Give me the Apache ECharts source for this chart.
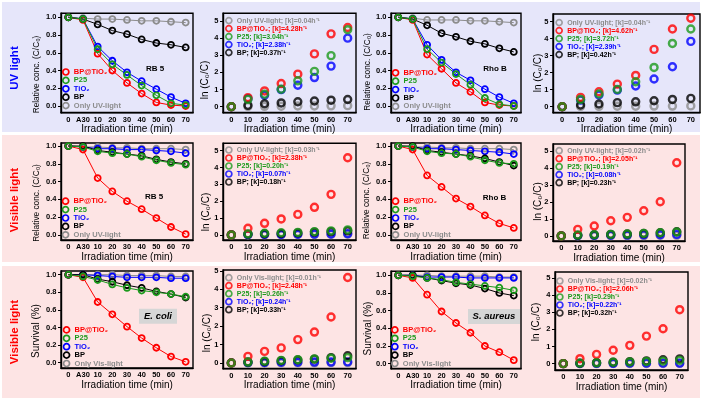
<!DOCTYPE html>
<html><head><meta charset="utf-8">
<script src="https://cdn.jsdelivr.net/npm/echarts@6/dist/echarts.min.js"></script>
<style>html,body{margin:0;padding:0;background:#fff}#c{width:702px;height:400px}</style>
</head><body><div id="c"></div>
<script>
// ---------- DATA ----------
const concCats = ['0','A30','10','20','30','40','50','60','70'];
const lnCats = ['0','10','20','30','40','50','60','70'];
const concTicks = [0,0.2,0.4,0.6,0.8,1.0];
const lnTicks = [0,1,2,3,4,5];
const matKeys = ['bpTiO2','p25','tiO2','bp'];
const matLabels = ['BP@TiO₂','P25','TiO₂','BP'];
const rowLabels = ['UV light','Visible light','Visible light'];
const lightNames = ['Only UV-light','Only UV-light','Only Vis-light'];
const dyeTitles = ['RB 5','Rho B','RB 5','Rho B'];
const bacteriaTitles = ['E. coli','S. aureus'];
const xTitle = 'Irradiation time (min)';
const yTitles = {conc:'Relative conc. (C/C₀)', surv:'Survival (%)', ln:'ln (C₀/C)'};

// relative concentration / survival (x: 0, A30, 10..70)
const uvRB5Conc = {
  bpTiO2:[1.0,0.97,0.59,0.40,0.26,0.14,0.04,0.01,0.00],
  p25:   [1.0,0.98,0.64,0.47,0.35,0.23,0.12,0.03,0.01],
  tiO2:  [1.0,0.98,0.67,0.51,0.38,0.28,0.19,0.10,0.03],
  bp:    [1.0,0.98,0.92,0.85,0.81,0.75,0.71,0.69,0.66],
  light: [1.0,0.99,0.98,0.98,0.97,0.96,0.96,0.95,0.94]};
const uvRhoConc = {
  bpTiO2:[1.0,0.97,0.58,0.42,0.26,0.16,0.04,0.01,0.00],
  p25:   [1.0,0.98,0.64,0.49,0.36,0.24,0.09,0.02,0.00],
  tiO2:  [1.0,0.98,0.69,0.52,0.38,0.29,0.19,0.10,0.03],
  bp:    [1.0,0.98,0.91,0.82,0.78,0.73,0.70,0.65,0.61],
  light: [1.0,0.99,0.97,0.97,0.97,0.96,0.96,0.95,0.94]};
const visRB5Conc = {
  bpTiO2:[1.0,0.96,0.64,0.49,0.38,0.29,0.19,0.09,0.01],
  p25:   [1.0,0.99,0.94,0.92,0.91,0.88,0.84,0.81,0.79],
  tiO2:  [1.0,0.99,0.97,0.97,0.96,0.96,0.95,0.94,0.92],
  bp:    [1.0,1.0,0.95,0.93,0.91,0.89,0.85,0.82,0.80],
  light: [1.0,0.99,0.99,0.98,0.98,0.97,0.97,0.97,0.96]};
const visRhoConc = {
  bpTiO2:[1.0,0.96,0.67,0.54,0.41,0.32,0.22,0.13,0.08],
  p25:   [1.0,0.99,0.94,0.92,0.91,0.88,0.84,0.81,0.80],
  tiO2:  [1.0,0.99,0.97,0.97,0.96,0.95,0.94,0.93,0.91],
  bp:    [1.0,1.0,0.95,0.93,0.91,0.89,0.86,0.82,0.78],
  light: [1.0,0.99,0.99,0.98,0.98,0.97,0.97,0.97,0.96]};
const ecoliSurv = {
  bpTiO2:[1.0,0.97,0.69,0.55,0.41,0.28,0.17,0.07,0.01],
  p25:   [1.0,0.98,0.94,0.89,0.85,0.82,0.80,0.78,0.75],
  tiO2:  [1.0,1.0,0.99,0.98,0.97,0.97,0.97,0.96,0.96],
  bp:    [1.0,1.0,0.95,0.92,0.88,0.85,0.81,0.78,0.74],
  light: [1.0,1.0,1.0,1.0,0.99,0.99,0.99,0.98,0.98]};
const aureusSurv = {
  bpTiO2:[1.0,0.97,0.78,0.59,0.46,0.35,0.20,0.13,0.04],
  p25:   [1.0,0.99,0.97,0.95,0.92,0.90,0.88,0.86,0.83],
  tiO2:  [1.0,1.0,0.98,0.98,0.98,0.97,0.97,0.97,0.97],
  bp:    [1.0,1.0,0.97,0.94,0.91,0.89,0.85,0.80,0.77],
  light: [1.0,1.0,1.0,0.99,0.99,0.99,0.99,0.98,0.98]};

// ln(C0/C) (x: 0..70)
const uvRB5Ln = {
  light: [0,0.01,0.02,0.03,0.04,0.04,0.05,0.06],
  bpTiO2:[0,0.53,0.92,1.35,1.90,3.08,4.25,4.62],
  p25:   [0,0.43,0.73,1.02,1.51,2.06,2.98,4.49],
  tiO2:  [0,0.47,0.67,1.00,1.25,1.70,2.37,4.00],
  bp:    [0,0.08,0.17,0.22,0.29,0.33,0.38,0.42]};
const uvRhoLn = {
  light: [0,0.02,0.02,0.03,0.03,0.04,0.04,0.05],
  bpTiO2:[0,0.55,0.88,1.33,1.84,3.37,4.57,5.20],
  p25:   [0,0.43,0.75,1.02,1.47,2.31,3.72,4.57],
  tiO2:  [0,0.39,0.69,0.98,1.22,1.63,2.35,3.84],
  bp:    [0,0.10,0.16,0.24,0.29,0.35,0.43,0.49]};
const visRB5Ln = {
  light: [0,0.01,0.02,0.02,0.03,0.03,0.03,0.04],
  bpTiO2:[0,0.40,0.69,0.95,1.22,1.64,2.41,4.58],
  p25:   [0,0.06,0.10,0.13,0.15,0.20,0.24,0.30],
  tiO2:  [0,0.02,0.03,0.03,0.04,0.05,0.06,0.08],
  bp:    [0,0.05,0.07,0.09,0.12,0.17,0.20,0.24]};
const visRhoLn = {
  light: [0,0.01,0.01,0.02,0.02,0.02,0.03,0.03],
  bpTiO2:[0,0.39,0.59,0.90,1.10,1.49,2.02,4.33],
  p25:   [0,0.05,0.07,0.09,0.11,0.15,0.19,0.23],
  tiO2:  [0,0.02,0.03,0.04,0.05,0.06,0.07,0.09],
  bp:    [0,0.04,0.07,0.09,0.11,0.14,0.19,0.25]};
const ecoliLn = {
  light: [0,0.00,0.00,0.01,0.01,0.01,0.02,0.02],
  bpTiO2:[0,0.36,0.63,0.82,1.27,1.68,2.50,4.64],
  p25:   [0,0.05,0.10,0.14,0.18,0.22,0.26,0.29],
  tiO2:  [0,0.02,0.03,0.04,0.04,0.05,0.05,0.06],
  bp:    [0,0.05,0.08,0.12,0.16,0.21,0.29,0.39]};
const aureusLn = {
  light: [0,0.00,0.00,0.01,0.01,0.01,0.01,0.02],
  bpTiO2:[0,0.29,0.54,0.78,1.07,1.61,2.04,3.15],
  p25:   [0,0.03,0.05,0.08,0.10,0.13,0.15,0.19],
  tiO2:  [0,0.01,0.02,0.02,0.03,0.03,0.03,0.03],
  bp:    [0,0.03,0.06,0.09,0.12,0.16,0.23,0.28]};

// rate constants [k] (h^-1)
const uvRB5K  = {light:'0.04', bpTiO2:'4.28', p25:'3.04', tiO2:'2.38', bp:'0.37'};
const uvRhoK  = {light:'0.04', bpTiO2:'4.62', p25:'3.72', tiO2:'2.39', bp:'0.42'};
const visRB5K = {light:'0.03', bpTiO2:'2.38', p25:'0.20', tiO2:'0.07', bp:'0.18'};
const visRhoK = {light:'0.02', bpTiO2:'2.05', p25:'0.19', tiO2:'0.08', bp:'0.23'};
const ecoliK  = {light:'0.01', bpTiO2:'2.48', p25:'0.26', tiO2:'0.24', bp:'0.33'};
const aureusK = {light:'0.02', bpTiO2:'2.06', p25:'0.29', tiO2:'0.22', bp:'0.32'};

// ---------- STYLE / LAYOUT ----------
const FONT = '"Liberation Sans", Arial, sans-serif';
const COL = {bpTiO2:'#ff0000', p25:'#1c9a1c', tiO2:'#0000ff', bp:'#000000', light:'#8c8c8c'};
const BAND = ['#e6e6fa','#fde4e4','#fde4e4'];

// yT: y-title kind, (tx,ty): y-title centre
const panels = [
 {kind:'conc',yT:'conc',row:0,d:uvRB5Conc,x0:61,x1:193,y0:13.3,y1:112.7,ymin:-0.0755,ymax:1.045,legL:62,legT:67.8,tx:37,ty:74.5,xGap:8.5},
 {kind:'ln',yT:'ln',row:0,d:uvRB5Ln,k:uvRB5K,x0:223,x1:356,y0:13.3,y1:112.7,ymin:-0.35,ymax:5.45,legL:225,legT:16.6,tx:205.5,ty:80,xGap:8.5},
 {kind:'conc',yT:'conc',row:0,d:uvRhoConc,x0:391,x1:521,y0:13.3,y1:112.7,ymin:-0.0755,ymax:1.045,legL:391.7,legT:68.6,tx:368,ty:72,xGap:8.5},
 {kind:'ln',yT:'ln',row:0,d:uvRhoLn,k:uvRhoK,x0:553,x1:700,y0:14,y1:112.7,ymin:-0.35,ymax:5.45,legL:555.3,legT:18.6,tx:538,ty:73,xGap:8.5},
 {kind:'conc',yT:'conc',row:1,d:visRB5Conc,x0:61,x1:193,y0:143,y1:240,ymin:-0.056,ymax:1.034,legL:61.7,legT:197,tx:37.2,ty:203,xGap:11},
 {kind:'ln',yT:'ln',row:1,d:visRB5Ln,k:visRB5K,x0:223,x1:356,y0:143.3,y1:240,ymin:-0.3,ymax:5.44,legL:225,legT:146,tx:206,ty:212,xGap:11},
 {kind:'conc',yT:'conc',row:1,d:visRhoConc,x0:391,x1:521,y0:143,y1:240,ymin:-0.056,ymax:1.034,legL:391.7,legT:197,tx:367,ty:200.5,xGap:11},
 {kind:'ln',yT:'ln',row:1,d:visRhoLn,k:visRhoK,x0:553,x1:685,y0:144,y1:241,ymin:-0.3,ymax:5.44,legL:555.3,legT:146.7,tx:538,ty:201.5,xGap:11},
 {kind:'conc',yT:'surv',row:2,d:ecoliSurv,x0:61,x1:193,y0:271,y1:368,ymin:-0.06,ymax:1.042,legL:62.7,legT:325.7,tx:36.5,ty:331,xGap:10},
 {kind:'ln',yT:'ln',row:2,d:ecoliLn,k:ecoliK,x0:223,x1:356,y0:270,y1:368.7,ymin:-0.31,ymax:5.05,legL:225,legT:273.7,tx:207.5,ty:333,xGap:10},
 {kind:'conc',yT:'surv',row:2,d:aureusSurv,x0:391,x1:521,y0:271.3,y1:368.7,ymin:-0.057,ymax:1.045,legL:391,legT:325.7,tx:368,ty:328.5,xGap:10},
 {kind:'ln',yT:'ln',row:2,d:aureusLn,k:aureusK,x0:555,x1:688,y0:272,y1:370,ymin:-0.37,ymax:5.35,legL:556,legT:277,tx:536,ty:322,xGap:10}
];
const yTitleFont = {conc:8.3, surv:10, ln:10};

const grid=[], xAxis=[], yAxis=[], series=[], legend=[], graphic=[];
panels.forEach((p,g)=>{
  grid.push({left:p.x0, top:p.y0, width:p.x1-p.x0, height:p.y1-p.y0, show:true,
    borderColor:'#000', borderWidth:1.4, backgroundColor:'rgba(0,0,0,0)', containLabel:false, outerBoundsMode:'none'});
  const isConc = p.kind==='conc';
  xAxis.push({type:'category', gridIndex:g, data: isConc?concCats:lnCats, boundaryGap:true,
    axisLine:{onZero:false,lineStyle:{color:'#000',width:1.4}},
    axisTick:{alignWithLabel:true,length:3,lineStyle:{color:'#000',width:1}},
    axisLabel:{interval:0,margin:3,color:'#000',fontFamily:FONT,fontWeight:'bold',fontSize:7.5},
    splitLine:{show:false},
    name:xTitle, nameLocation:'middle', nameGap:p.xGap,
    nameTextStyle:{fontFamily:FONT,fontSize:10,color:'#000'}});
  const ticks = isConc?concTicks:lnTicks;
  yAxis.push({type:'value', gridIndex:g, min:p.ymin, max:p.ymax,
    axisLine:{show:true,onZero:false,lineStyle:{color:'#000',width:1.4}},
    axisTick:{show:true,length:3,customValues:ticks,lineStyle:{color:'#000',width:1}},
    axisLabel:{customValues:ticks,margin:4.5,color:'#000',fontFamily:FONT,fontWeight:'bold',fontSize:7.5,
      formatter:v=>isConc?Number(v).toFixed(1):String(Math.round(v))},
    splitLine:{show:false}});
  // y-axis title (rotated text placed beside the axis)
  graphic.push({type:'text', x:p.tx, y:p.ty, rotation:Math.PI/2, silent:true,
    style:{text:yTitles[p.yT], fill:'#000', fontFamily:FONT, fontSize:yTitleFont[p.yT], align:'center', verticalAlign:'middle'}});

  const lightName = lightNames[p.row];
  const nameOf = key => {
    const base = key==='light'?lightName:matLabels[matKeys.indexOf(key)];
    return isConc?base:(base+'; [k]='+p.k[key]+'h⁻¹');
  };
  const drawOrder = isConc?['light','tiO2','bpTiO2','bp','p25']:['light','tiO2','bp','bpTiO2','p25'];
  drawOrder.forEach(key=>{
    const s = {name:nameOf(key), xAxisIndex:g, yAxisIndex:g, data:p.d[key], symbol:'circle',
      animation:false, silent:true, emphasis:{disabled:true},
      itemStyle:{color:'rgba(0,0,0,0)', borderColor:COL[key], borderWidth:isConc?1.8:2.4}};
    if(isConc){ s.type='line'; s.symbolSize=6; s.showSymbol=true; s.lineStyle={color:COL[key],width:1}; }
    else { s.type='scatter'; s.symbolSize=7; }
    series.push(s);
  });
  const legOrder = isConc?['bpTiO2','p25','tiO2','bp','light']:['light','bpTiO2','p25','tiO2','bp'];
  legend.push({orient:'vertical', left:p.legL, top:p.legT, padding:0, itemGap:0,
    itemWidth:6, itemHeight:6, icon:'circle', selectedMode:false,
    itemStyle:{color:'rgba(0,0,0,0)', borderWidth:1.7},
    textStyle:{fontFamily:FONT,fontWeight:'bold',fontSize:isConc?7.5:7,lineHeight:isConc?8.4:8},
    data: legOrder.map(key=>({name:nameOf(key), textStyle:{color:COL[key]}}))});
});

// ---------- GRAPHICS (bands, row labels, panel titles) ----------
const bandRects = [[2,2,698,130],[2,135,698,127],[2,266,698,132]];
bandRects.forEach((r,i)=>graphic.push({type:'rect', z:-100, silent:true,
  shape:{x:r[0],y:r[1],width:r[2],height:r[3]}, style:{fill:BAND[i]}}));
const rowLabelPos = [[15,68,'#0000ff'],[15,200,'#ff0000'],[15,332,'#ff0000']];
rowLabels.forEach((t,i)=>graphic.push({type:'text', x:rowLabelPos[i][0], y:rowLabelPos[i][1], rotation:Math.PI/2,
  style:{text:t, fill:rowLabelPos[i][2], fontFamily:FONT, fontWeight:'bold', fontSize:11.5, align:'center', verticalAlign:'middle'}}));
const dyePos = [[155,68.3],[495,68.3],[154,197],[494.5,197.5]];
dyeTitles.forEach((t,i)=>graphic.push({type:'text', x:dyePos[i][0], y:dyePos[i][1],
  style:{text:t, fill:'#000', fontFamily:FONT, fontWeight:'bold', fontSize:8, align:'center', verticalAlign:'middle'}}));
const bactBox = [[139,308.7,38,15],[468,309,52,15]];
bacteriaTitles.forEach((t,i)=>{
  const b = bactBox[i];
  graphic.push({type:'rect', shape:{x:b[0],y:b[1],width:b[2],height:b[3]}, style:{fill:'#d6d6d6'}});
  graphic.push({type:'text', x:b[0]+b[2]/2, y:b[1]+b[3]/2,
    style:{text:t, fill:'#000', fontFamily:FONT, fontWeight:'bold', fontStyle:'italic', fontSize:9.5, align:'center', verticalAlign:'middle'}});
});

const chart = echarts.init(document.getElementById('c'), null, {width:702, height:400});
chart.setOption({backgroundColor:'#ffffff', animation:false, grid, xAxis, yAxis, series, legend, graphic});
</script></body></html>
